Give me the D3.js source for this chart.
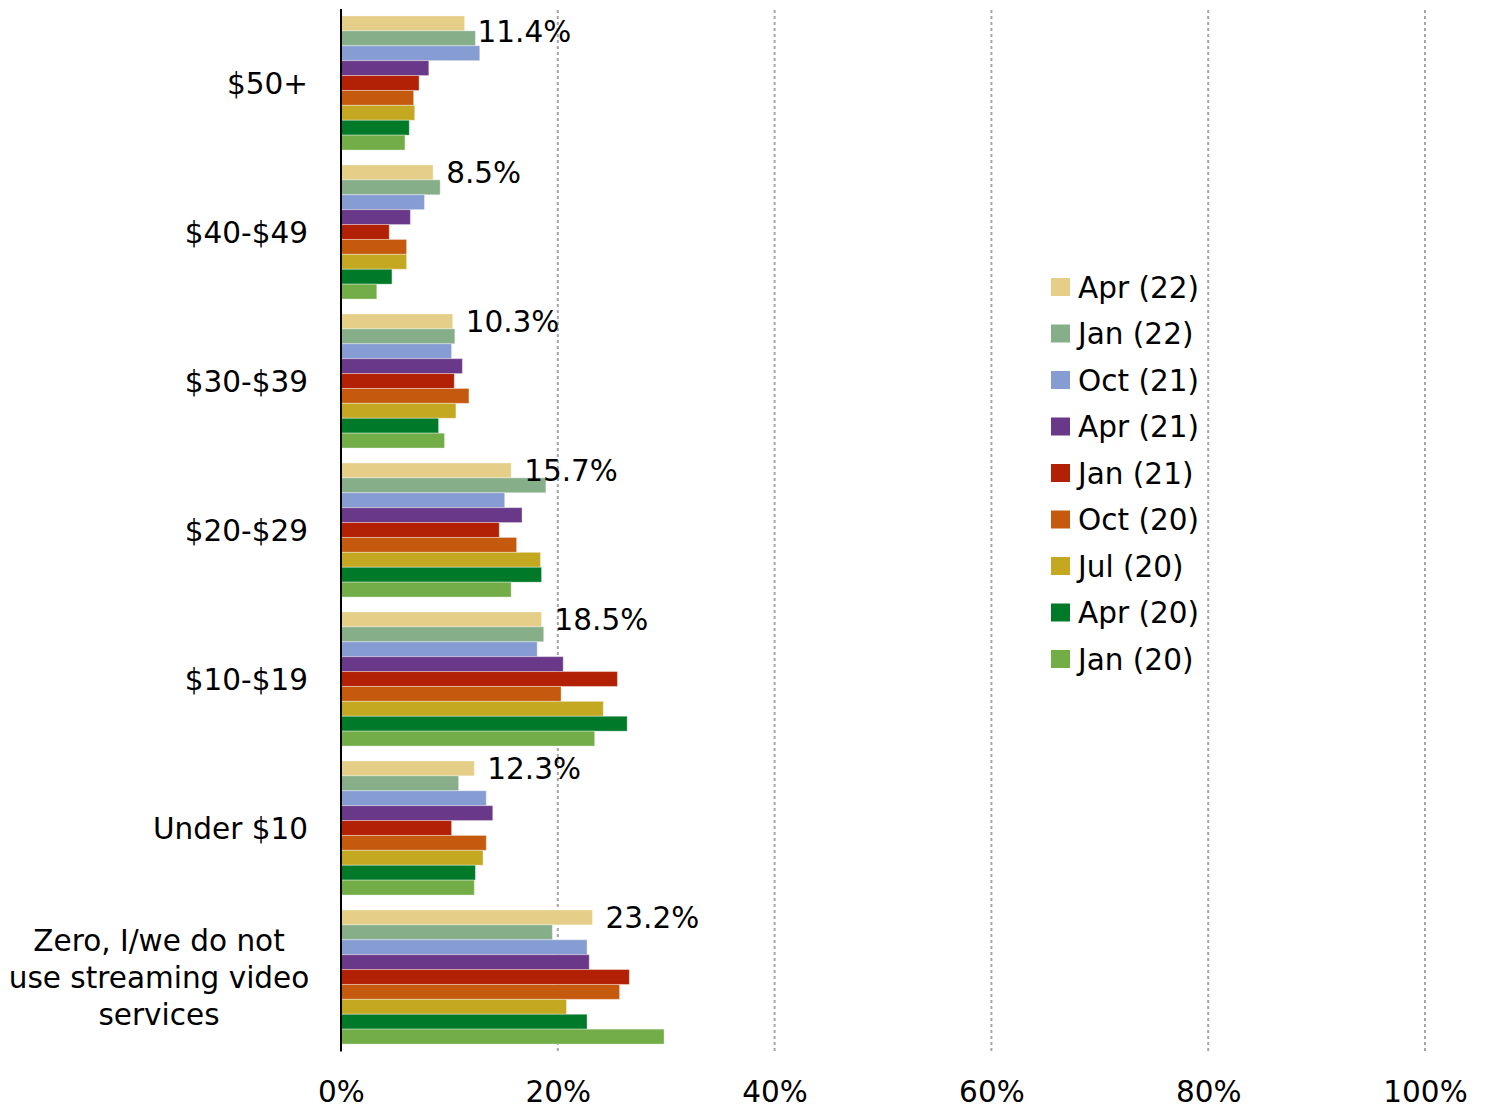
<!DOCTYPE html>
<html>
<head>
<meta charset="utf-8">
<script src="https://cdn.jsdelivr.net/npm/d3@7"></script>
<style>
  body { margin: 0; background: #fff; }
  text { font-family: "DejaVu Sans", Verdana, sans-serif; fill: #000; }
</style>
</head>
<body>
<div class="chart"></div>
<script>
// categories top to bottom
const categories = ['$50+', '$40-$49', '$30-$39', '$20-$29', '$10-$19', 'Under $10',
                    'Zero, I/we do not|use streaming video|services'];

// series in drawing order (top bar of each group first)
const seriesNames = ['Apr (22)', 'Jan (22)', 'Oct (21)', 'Apr (21)', 'Jan (21)',
                     'Oct (20)', 'Jul (20)', 'Apr (20)', 'Jan (20)'];

const apr22 = [11.4, 8.5, 10.3, 15.7, 18.5, 12.3, 23.2];
const jan22 = [12.4, 9.15, 10.5, 18.9, 18.7, 10.85, 19.5];
const oct21 = [12.8, 7.7, 10.2, 15.1, 18.1, 13.4, 22.7];
const apr21 = [8.1, 6.4, 11.2, 16.7, 20.5, 14.0, 22.9];
const jan21 = [7.2, 4.45, 10.45, 14.6, 25.5, 10.2, 26.6];
const oct20 = [6.7, 6.05, 11.8, 16.2, 20.3, 13.4, 25.7];
const jul20 = [6.8, 6.05, 10.6, 18.4, 24.2, 13.1, 20.8];
const apr20 = [6.3, 4.7, 9.0, 18.5, 26.4, 12.4, 22.7];
const jan20 = [5.9, 3.3, 9.55, 15.7, 23.4, 12.3, 29.8];

const seriesValues = [apr22, jan22, oct21, apr21, jan21, oct20, jul20, apr20, jan20];

const colors = ['#e5ce87', '#86ae89', '#869dd3', '#6a3889', '#b22006',
                '#c55a0f', '#c4a822', '#007a28', '#72ad48'];

const xTicks = [0, 20, 40, 60, 80, 100];

let w = 1486,
    h = 1110,
    plotLeft = 341,
    plotRight = 1425,
    plotTop = 8.5,
    plotBottom = 1051.5,
    fs = 29.5;

const svg = d3.select('.chart')
              .append('svg')
              .attr('width', w)
              .attr('height', h);

const xScale = d3.scaleLinear()
                 .domain([0, 100])
                 .range([plotLeft, plotRight]);

const yScale = d3.scaleBand()
                 .domain(d3.range(categories.length))
                 .range([plotTop, plotBottom])
                 .paddingInner(0.1)
                 .paddingOuter(0.05);

const inner = d3.scaleBand()
                .domain(d3.range(seriesNames.length))
                .range([0, yScale.bandwidth()]);

const color = d3.scaleOrdinal()
                .domain(seriesNames)
                .range(colors);

// dotted gridlines
svg.append('g')
   .selectAll('line')
   .data(xTicks.filter(d => d > 0))
   .enter()
   .append('line')
   .attr('x1', d => xScale(d))
   .attr('x2', d => xScale(d))
   .attr('y1', 10)
   .attr('y2', plotBottom)
   .attr('stroke', '#a6a6a6')
   .attr('stroke-width', 2)
   .attr('stroke-dasharray', '3,3');

// bars
const flat = [];
seriesValues.forEach((vals, s) => {
    vals.forEach((v, c) => flat.push({s: s, c: c, v: v}));
});

svg.append('g')
   .selectAll('rect')
   .data(flat)
   .enter()
   .append('rect')
   .attr('x', xScale(0))
   .attr('y', d => yScale(d.c) + inner(d.s))
   .attr('width', d => xScale(d.v) - xScale(0))
   .attr('height', inner.bandwidth())
   .attr('fill', d => color(seriesNames[d.s]))
   .attr('stroke', '#fff')
   .attr('stroke-opacity', 0.35)
   .attr('stroke-width', 1);

// data labels on the Apr (22) bars
const labelDy = [8, 0, 0, 0, 0, 0, 0];
svg.append('g')
   .selectAll('text')
   .data(apr22)
   .enter()
   .append('text')
   .attr('x', d => xScale(d) + 13)
   .attr('y', (d, i) => yScale(i) + inner(0) + inner.bandwidth() / 2 + labelDy[i])
   .attr('dy', '0.36em')
   .style('font-size', fs + 'px')
   .text(d => d.toFixed(1) + '%');

// vertical axis line
svg.append('line')
   .attr('x1', plotLeft)
   .attr('x2', plotLeft)
   .attr('y1', 9)
   .attr('y2', plotBottom)
   .attr('stroke', '#000')
   .attr('stroke-width', 2);

// category labels
const catG = svg.append('g');
categories.forEach((c, i) => {
    const lines = c.split('|');
    const cy = yScale(i) + yScale.bandwidth() / 2;
    const multi = lines.length > 1;
    const t = catG.append('text')
                  .attr('text-anchor', multi ? 'middle' : 'end')
                  .style('font-size', fs + 'px');
    lines.forEach((ln, j) => {
        t.append('tspan')
         .attr('x', multi ? 159 : 308)
         .attr('y', cy + (j - (lines.length - 1) / 2) * 37)
         .attr('dy', '0.36em')
         .text(ln);
    });
});

// x axis tick labels
const xAxis = d3.axisBottom(xScale)
                .tickValues(xTicks)
                .tickSize(0)
                .tickPadding(29)
                .tickFormat(d => d + '%');

svg.append('g')
   .attr('transform', `translate(0,1052)`)
   .call(xAxis)
   .call(g => g.select('.domain').remove())
   .selectAll('text')
   .style('font-size', fs + 'px')
   .style('font-family', '"DejaVu Sans", Verdana, sans-serif')
   .attr('fill', '#000');

// legend
const legend = svg.append('g')
                  .selectAll('g')
                  .data(seriesNames)
                  .enter()
                  .append('g')
                  .attr('transform', (d, i) => `translate(1051,${287 + i * 46.5})`);

legend.append('rect')
      .attr('x', 0)
      .attr('y', -9)
      .attr('width', 19)
      .attr('height', 18)
      .attr('fill', d => color(d));

legend.append('text')
      .attr('x', 27)
      .attr('y', 0)
      .attr('dy', '0.36em')
      .style('font-size', fs + 'px')
      .text(d => d);
</script>
</body>
</html>
